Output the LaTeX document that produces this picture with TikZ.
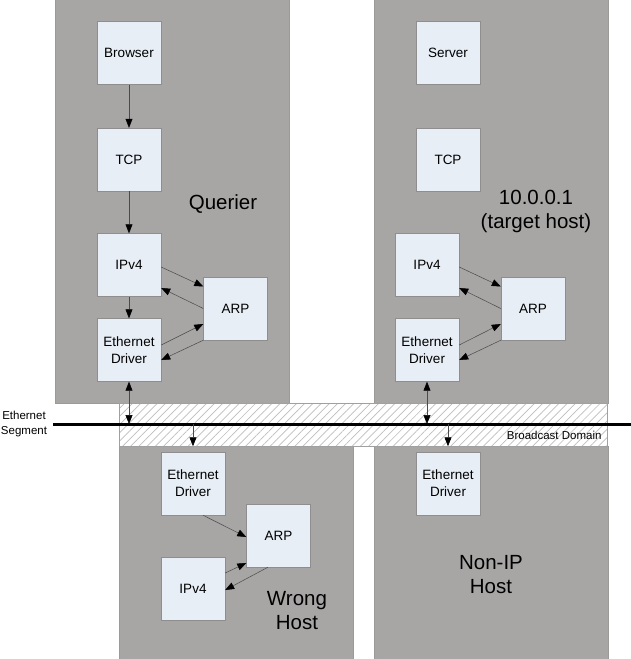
\documentclass[tikz,border=0pt]{standalone}
\usepackage{fontspec}
\setmainfont{Liberation Sans}
\usetikzlibrary{arrows.meta,patterns.meta}
\definecolor{panelgray}{HTML}{A8A5A5}
\definecolor{paneledge}{HTML}{9C9999}
\definecolor{boxfill}{HTML}{E7EEF6}
\definecolor{boxedge}{HTML}{8E8E8E}
\definecolor{hatch}{HTML}{BEBEBE}
\definecolor{bandedge}{HTML}{A0A0A0}
\definecolor{arrowline}{HTML}{4A4A4A}
\begin{document}
\begin{tikzpicture}[x=1pt,y=-1pt,
  panel/.style={fill=panelgray,draw=paneledge,line width=0.5pt},
  blk/.style={fill=boxfill,draw=boxedge,line width=0.4pt,minimum width=64pt,minimum height=63pt,
    inner sep=0pt,align=center,font=\fontsize{13.5}{17}\selectfont},
  biglabel/.style={align=center,font=\fontsize{20.5}{24}\selectfont},
  smalllabel/.style={align=center,font=\fontsize{11.5}{15}\selectfont},
  tip/.tip={Triangle[length=9pt,width=7pt,color=black]},
  conn/.style={draw=arrowline,line width=0.5pt,-tip},
  conn2/.style={draw=arrowline,line width=0.5pt,tip-tip},
  bandstyle/.style={pattern={Lines[angle=45,distance=5.8pt,line width=0.7pt]},pattern color=hatch,
    draw=bandedge,line width=0.5pt,minimum width=488pt,minimum height=43pt,inner sep=0pt}
]
\useasboundingbox (0,0) rectangle (631,659);
\fill[white] (0,0) rectangle (631,659);

% panels
\path[panel] (55,-1) rectangle (289,403);
\path[panel] (374,-1) rectangle (608,403);
\path[panel] (119,446) rectangle (353,660);
\path[panel] (374,446) rectangle (608,660);

% broadcast band
\node[bandstyle] (band) at (363,424.5) {};
\coordinate (segL) at (53,424);
\coordinate (segR) at (631,424);
\draw[line width=3pt,black] (segL) -- (segR);

% labels
\node[smalllabel] (lblseg) at (24,424) {Ethernet\\Segment};
\node[smalllabel,anchor=east] (lblbd) at (605,435) {Broadcast Domain};
\node[biglabel] (lblq) at (223,204) {Querier};
\node[biglabel] (lblt) at (536,211) {10.0.0.1\\(target host)};
\node[biglabel] (lblw) at (297,611) {Wrong\\Host};
\node[biglabel] (lbln) at (491,575) {Non-IP\\Host};

% Querier
\node[blk] (qbrow) at (129,53) {Browser};
\node[blk] (qtcp) at (129,159.5) {TCP};
\node[blk] (qip) at (129,265) {IPv4};
\node[blk] (qeth) at (129,350) {Ethernet\\Driver};
\node[blk] (qarp) at (235.5,308.5) {ARP};

% Target
\node[blk] (tsrv) at (448,53) {Server};
\node[blk] (ttcp) at (448,159.5) {TCP};
\node[blk] (tip) at (427,265) {IPv4};
\node[blk] (teth) at (427,350) {Ethernet\\Driver};
\node[blk] (tarp) at (533,308.5) {ARP};

% Wrong host
\node[blk] (weth) at (193,483.5) {Ethernet\\Driver};
\node[blk] (warp) at (278.5,535.5) {ARP};
\node[blk] (wip) at (193,589) {IPv4};

% Non-IP host
\node[blk] (neth) at (448,483.5) {Ethernet\\Driver};

% Querier connectors
\draw[conn] (qbrow.south) -- (qtcp.north);
\draw[conn] (qtcp.south) -- (qip.north);
\draw[conn] (qip.south) -- (qeth.north);
\draw[conn] ([yshift=-2pt]qip.east) -- ([yshift=22pt]qarp.west);
\draw[conn] (qarp.west) -- ([yshift=-23pt]qip.east);
\draw[conn] ([yshift=5pt]qeth.east) -- ([yshift=-15.5pt]qarp.west);
\draw[conn] (qarp.south west) -- ([yshift=-10pt]qeth.east);
\draw[conn2] (qeth.south) -- (qeth.south |- segL);

% Target connectors
\draw[conn] ([yshift=-2pt]tip.east) -- ([yshift=22pt]tarp.west);
\draw[conn] (tarp.west) -- ([yshift=-23pt]tip.east);
\draw[conn] ([yshift=5pt]teth.east) -- ([yshift=-15.5pt]tarp.west);
\draw[conn] (tarp.south west) -- ([yshift=-10pt]teth.east);
\draw[conn2] (teth.south) -- (teth.south |- segL);

% Wrong host connectors
\draw[conn] (weth.north |- segL) -- (weth.north |- band.south);
\draw[conn] ([xshift=10pt]weth.south) -- ([yshift=-1.5pt]warp.west);
\draw[conn] ([yshift=16pt]wip.east) -- ([yshift=-27.5pt]warp.west);
\draw[conn] ([xshift=-10.5pt]warp.south) -- ([yshift=-1pt]wip.east);

% Non-IP connector
\draw[conn] (neth.north |- segL) -- (neth.north |- band.south);
\end{tikzpicture}
\end{document}
